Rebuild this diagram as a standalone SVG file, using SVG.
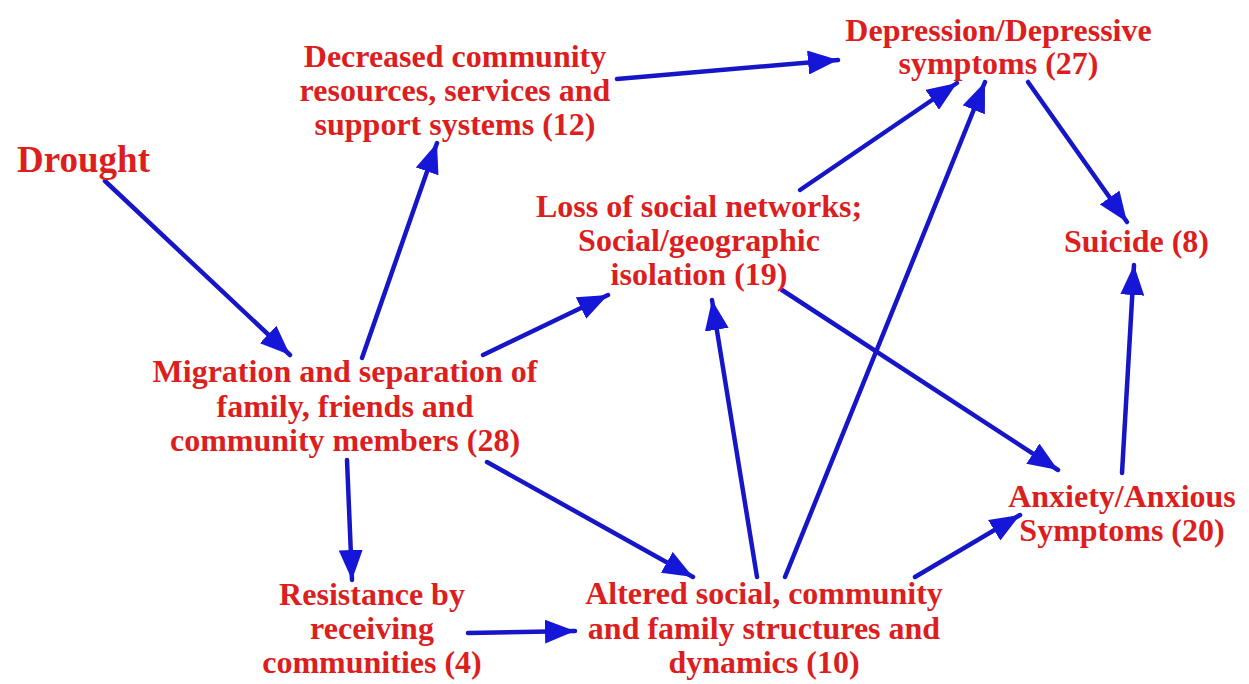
<svg xmlns="http://www.w3.org/2000/svg" width="1249" height="684" viewBox="0 0 1249 684">
<style>
text{font-family:"Liberation Serif","Times New Roman",serif;font-weight:bold;font-size:32px;fill:#dd1e1e;text-anchor:middle}
.big{font-size:37px}
.c line{stroke:#1616c8;stroke-width:4.5;stroke-linecap:round;marker-end:url(#ah)}
</style>
<defs>
<marker id="ah" markerUnits="userSpaceOnUse" markerWidth="32" markerHeight="24" refX="30" refY="12" orient="auto" viewBox="0 0 32 24">
<path d="M0,0 L30,12 L0,24 z" fill="#1616d8"/>
</marker>
</defs>
<rect width="1249" height="684" fill="#ffffff"/>
<g class="c" id="connectors">
<line x1="105" y1="181" x2="290" y2="355"/>
<line x1="362" y1="358" x2="437" y2="143"/>
<line x1="483" y1="355" x2="608" y2="295"/>
<line x1="617" y1="79" x2="838" y2="60"/>
<line x1="800" y1="190" x2="957" y2="83"/>
<line x1="785" y1="577" x2="985" y2="82"/>
<line x1="1028" y1="82" x2="1127" y2="222"/>
<line x1="1122" y1="473" x2="1134" y2="265"/>
<line x1="782" y1="290" x2="1058" y2="470"/>
<line x1="757" y1="577" x2="712" y2="300"/>
<line x1="915" y1="577" x2="1020" y2="515"/>
<line x1="487" y1="462" x2="693" y2="577"/>
<line x1="347" y1="460" x2="352" y2="580"/>
<line x1="468" y1="633" x2="575" y2="631"/>
</g>
<g id="drought"><text class="big" x="83.5" y="172">Drought</text></g>
<g id="decreased">
<text x="455" y="67">Decreased community</text>
<text x="455" y="101">resources, services and</text>
<text x="455" y="135">support systems (12)</text>
</g>
<g id="depression">
<text x="998.5" y="41">Depression/Depressive</text>
<text x="998.5" y="74">symptoms (27)</text>
</g>
<g id="loss">
<text x="699" y="217">Loss of social networks;</text>
<text x="699" y="251">Social/geographic</text>
<text x="699" y="285">isolation (19)</text>
</g>
<g id="suicide"><text x="1136.5" y="252">Suicide (8)</text></g>
<g id="migration">
<text x="345" y="382">Migration and separation of</text>
<text x="345" y="417">family, friends and</text>
<text x="345" y="451">community members (28)</text>
</g>
<g id="anxiety">
<text x="1122" y="507">Anxiety/Anxious</text>
<text x="1122" y="541">Symptoms (20)</text>
</g>
<g id="resistance">
<text x="372" y="605">Resistance by</text>
<text x="372" y="639">receiving</text>
<text x="372" y="673">communities (4)</text>
</g>
<g id="altered">
<text x="764" y="604">Altered social, community</text>
<text x="764" y="639">and family structures and</text>
<text x="764" y="673">dynamics (10)</text>
</g>
</svg>
